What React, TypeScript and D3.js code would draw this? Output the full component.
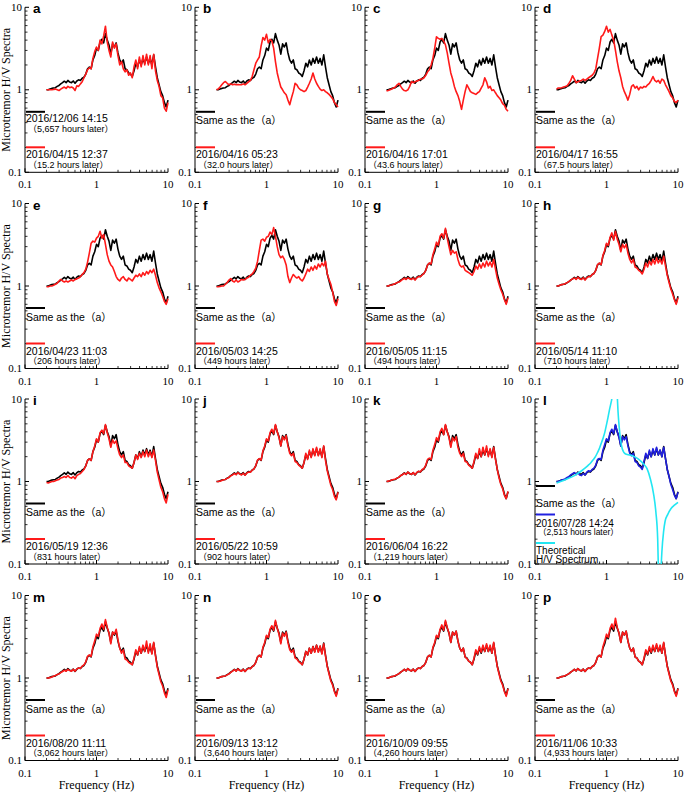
import React from 'react';
import * as d3 from 'd3';

// Frequency grid (Hz), log-spaced sampling used for all measured spectra
const freqGrid = [0.200,0.211,0.224,0.237,0.251,0.266,0.282,0.299,0.316,0.335,0.355,0.376,0.398,0.422,0.447,0.473,0.501,0.531,0.562,0.596,0.631,0.668,0.708,0.750,0.794,0.841,0.891,0.944,1.000,1.059,1.122,1.189,1.259,1.334,1.413,1.496,1.585,1.679,1.778,1.884,1.995,2.113,2.239,2.371,2.512,2.661,2.818,2.985,3.162,3.350,3.548,3.758,3.981,4.217,4.467,4.732,5.012,5.309,5.623,5.957,6.310,6.683,7.079,7.499,7.943,8.414,8.913,9.441,10.00];

// Reference spectrum 2016/12/06 (black, same in all panels)
const blackRef = [1.00,1.00,1.02,1.04,1.05,1.06,1.10,1.13,1.18,1.22,1.27,1.22,1.30,1.24,1.22,1.28,1.20,1.28,1.32,1.30,1.38,1.42,1.55,1.80,1.88,1.80,2.30,2.60,3.20,3.00,3.80,4.10,3.70,4.80,4.00,3.50,2.70,3.60,3.30,3.70,2.80,2.30,2.10,2.30,1.80,1.75,1.60,1.55,1.45,1.70,2.10,1.90,2.30,2.00,2.40,2.10,2.50,2.10,2.40,2.00,2.65,1.90,1.40,1.15,0.95,0.85,0.70,0.62,0.75];

const redA = [1.00,1.00,1.00,1.00,1.01,1.02,1.00,0.98,1.02,1.05,1.08,1.04,1.10,1.06,1.08,1.05,0.98,1.12,1.10,1.18,1.25,1.40,1.55,1.75,1.85,1.80,2.40,2.90,3.30,3.00,4.00,3.60,4.50,5.90,3.80,3.00,2.50,3.80,3.20,3.60,2.60,2.00,2.20,1.80,1.65,1.75,1.50,1.60,1.40,1.90,2.30,1.80,2.50,1.90,2.60,2.00,2.70,2.00,2.60,1.80,2.70,1.70,1.30,1.10,0.85,0.80,0.60,0.55,0.70];
const redB = [1.00,1.02,1.08,1.15,1.22,1.26,1.20,1.15,1.18,1.15,1.17,1.15,1.16,1.15,1.15,1.18,1.15,1.20,1.25,1.30,1.45,1.75,2.10,2.30,2.50,3.40,4.30,4.00,4.70,3.70,4.10,3.90,3.20,2.20,1.60,1.30,1.08,1.00,0.92,0.87,0.75,0.66,0.80,0.95,1.20,1.15,1.05,1.00,0.98,0.95,0.98,1.08,1.20,1.35,1.60,1.35,1.20,1.10,1.02,0.98,1.00,0.95,0.92,0.88,0.83,0.78,0.70,0.66,0.62];
const redC = [0.97,0.98,1.00,1.02,1.05,1.08,1.15,1.20,1.10,1.02,0.98,0.97,1.00,1.10,1.26,1.22,1.25,1.28,1.30,1.35,1.35,1.40,1.50,1.65,1.75,2.00,2.40,3.20,4.40,4.20,4.10,4.20,3.90,3.50,2.80,2.10,1.60,1.35,1.10,0.95,0.85,0.72,0.58,0.75,0.95,1.15,1.05,0.95,0.92,0.90,0.88,0.92,0.95,1.05,1.15,1.40,1.25,1.05,1.10,0.98,1.00,0.92,0.85,0.80,0.75,0.68,0.65,0.58,0.55];
const redD = [1.02,1.05,1.05,1.06,1.08,1.10,1.12,1.20,1.30,1.48,1.35,1.22,1.25,1.28,1.30,1.35,1.30,1.35,1.40,1.45,1.50,1.60,1.80,2.40,3.20,4.40,4.60,5.10,5.90,5.00,5.40,4.60,4.00,3.00,2.20,1.70,1.40,1.10,0.95,0.85,0.75,0.88,1.10,1.15,1.05,1.10,1.00,1.08,1.05,1.10,1.08,1.15,1.20,1.30,1.45,1.30,1.25,1.30,1.20,1.35,1.30,1.15,1.05,0.95,0.85,0.80,0.72,0.70,0.75];
const redE = [0.98,0.98,1.00,1.00,1.02,1.05,1.08,1.15,1.20,1.15,1.12,1.15,1.12,1.15,1.18,1.15,1.20,1.22,1.25,1.30,1.38,1.45,1.60,1.95,2.50,3.30,3.50,3.40,3.80,4.00,4.60,3.80,4.20,3.20,2.40,2.00,1.80,1.70,1.50,1.30,1.20,1.15,1.25,1.30,1.20,1.15,1.25,1.20,1.15,1.25,1.35,1.30,1.40,1.30,1.45,1.35,1.50,1.40,1.55,1.45,1.60,1.35,1.10,0.95,0.85,0.75,0.65,0.60,0.70];
const redF = [0.98,0.98,0.99,1.00,1.00,1.05,1.10,1.18,1.23,1.15,1.12,1.18,1.12,1.15,1.20,1.18,1.20,1.25,1.28,1.35,1.40,1.50,1.65,2.00,2.70,3.60,3.70,3.50,3.90,4.00,4.50,4.20,5.10,4.00,3.00,2.40,2.20,2.30,2.10,1.80,1.30,1.10,1.25,1.38,1.30,1.25,1.30,1.20,1.15,1.25,1.40,1.60,1.50,1.70,1.55,1.75,1.60,1.85,1.70,1.90,1.75,2.00,1.40,1.20,1.05,0.85,0.65,0.58,0.70];
const redG = [1.00,1.00,1.02,1.03,1.05,1.07,1.10,1.12,1.15,1.20,1.24,1.20,1.26,1.22,1.20,1.25,1.18,1.26,1.30,1.30,1.36,1.42,1.55,1.80,1.90,1.85,2.40,2.80,3.40,3.10,4.00,4.30,3.80,5.00,3.80,3.00,2.40,2.70,2.50,2.60,2.10,1.80,1.70,1.75,1.55,1.50,1.45,1.40,1.35,1.50,1.75,1.60,1.85,1.65,1.90,1.70,2.00,1.75,1.95,1.70,2.10,1.60,1.25,1.05,0.90,0.80,0.68,0.60,0.72];
const redH = [1.00,1.00,1.02,1.04,1.05,1.07,1.10,1.14,1.18,1.22,1.25,1.20,1.28,1.22,1.20,1.26,1.18,1.26,1.30,1.30,1.38,1.42,1.55,1.82,1.90,1.82,2.35,2.70,3.30,3.10,3.90,4.40,3.60,4.60,3.70,3.20,2.60,3.20,2.90,3.20,2.50,2.10,1.90,2.10,1.70,1.65,1.55,1.50,1.40,1.60,1.90,1.70,2.00,1.80,2.10,1.85,2.20,1.90,2.10,1.85,2.30,1.75,1.35,1.10,0.92,0.80,0.68,0.60,0.72];
const redI = [0.97,0.96,0.98,1.00,1.00,1.02,1.04,1.06,1.10,1.12,1.15,1.12,1.18,1.12,1.10,1.15,1.08,1.18,1.22,1.25,1.32,1.40,1.55,1.80,1.88,1.80,2.30,2.70,3.30,3.00,3.90,4.20,3.80,4.90,3.90,3.30,2.60,3.20,2.90,3.10,2.50,2.10,1.95,2.10,1.70,1.70,1.55,1.50,1.45,1.70,2.10,1.85,2.20,1.95,2.30,2.00,2.40,2.00,2.30,1.95,2.40,1.80,1.30,1.05,0.85,0.75,0.62,0.55,0.70];
const redJ = [1.00,1.00,1.01,1.03,1.05,1.06,1.09,1.12,1.17,1.20,1.25,1.21,1.28,1.23,1.20,1.26,1.19,1.27,1.30,1.30,1.37,1.42,1.56,1.82,1.90,1.82,2.35,2.70,3.30,3.10,3.90,4.30,3.80,4.90,4.00,3.40,2.70,3.50,3.20,3.60,2.70,2.20,2.05,2.20,1.75,1.70,1.58,1.52,1.45,1.70,2.20,1.85,2.40,1.95,2.50,2.05,2.60,2.05,2.50,1.95,2.70,1.80,1.35,1.10,0.90,0.80,0.66,0.60,0.74];
const redK = [1.00,1.01,1.02,1.04,1.06,1.07,1.10,1.13,1.18,1.21,1.26,1.22,1.30,1.25,1.22,1.28,1.21,1.29,1.33,1.31,1.40,1.44,1.58,1.85,1.92,1.85,2.40,2.80,3.40,3.10,4.00,4.40,3.70,4.90,4.00,3.40,2.60,3.40,3.10,3.50,2.60,2.20,2.00,2.20,1.75,1.72,1.58,1.52,1.45,1.75,2.20,1.90,2.50,2.00,2.60,2.10,2.70,2.00,2.50,1.95,2.60,1.85,1.40,1.10,0.92,0.82,0.68,0.62,0.76];
const blueL = [1.00,1.00,1.02,1.04,1.06,1.08,1.12,1.15,1.20,1.24,1.28,1.22,1.28,1.20,1.18,1.25,1.20,1.30,1.35,1.32,1.40,1.45,1.58,1.85,1.90,1.85,2.40,2.80,3.30,3.10,3.90,4.30,3.80,4.90,4.00,3.40,2.70,3.50,3.20,3.50,2.70,2.20,2.05,2.20,1.75,1.70,1.55,1.50,1.40,1.75,2.20,1.90,2.40,2.00,2.50,2.10,2.60,2.10,2.40,2.00,2.60,1.90,1.40,1.15,0.92,0.80,0.68,0.62,0.74];
const redM = [1.00,1.00,1.01,1.03,1.05,1.07,1.10,1.12,1.16,1.20,1.24,1.21,1.27,1.23,1.21,1.27,1.21,1.29,1.32,1.31,1.39,1.44,1.57,1.83,1.90,1.83,2.40,2.80,3.40,3.20,4.00,4.50,3.90,5.10,4.10,3.50,2.60,3.60,3.40,3.90,2.90,2.30,2.00,2.20,1.70,1.65,1.55,1.50,1.45,1.75,2.20,1.90,2.40,2.00,2.50,2.10,2.80,2.00,2.60,1.95,2.70,1.85,1.35,1.10,0.90,0.80,0.66,0.58,0.72];
const redN = [1.00,1.00,1.02,1.04,1.05,1.06,1.09,1.12,1.17,1.21,1.26,1.21,1.29,1.23,1.21,1.27,1.20,1.27,1.31,1.30,1.37,1.42,1.55,1.80,1.88,1.80,2.35,2.70,3.30,3.10,3.90,4.30,3.80,5.00,4.00,3.40,2.60,3.50,3.20,3.60,2.70,2.20,2.05,2.20,1.75,1.70,1.58,1.52,1.45,1.70,2.10,1.90,2.30,2.00,2.40,2.05,2.50,2.05,2.45,1.95,2.60,1.85,1.38,1.12,0.92,0.82,0.68,0.60,0.74];
const redO = [1.00,1.00,1.02,1.04,1.05,1.07,1.10,1.13,1.18,1.22,1.27,1.22,1.30,1.24,1.22,1.28,1.20,1.28,1.32,1.30,1.38,1.42,1.55,1.80,1.88,1.80,2.35,2.70,3.30,3.10,3.90,4.40,3.80,5.00,4.10,3.50,2.70,3.60,3.30,3.70,2.80,2.30,2.10,2.30,1.80,1.72,1.60,1.55,1.45,1.75,2.20,1.95,2.40,2.05,2.50,2.10,2.60,2.10,2.50,2.00,2.70,1.85,1.38,1.12,0.92,0.82,0.68,0.60,0.74];
const redP = [1.00,1.00,1.02,1.04,1.05,1.07,1.10,1.13,1.18,1.22,1.27,1.22,1.30,1.24,1.22,1.28,1.20,1.28,1.32,1.30,1.38,1.42,1.55,1.80,1.88,1.80,2.40,2.80,3.40,3.10,4.00,4.50,3.90,5.30,4.10,3.50,2.70,3.60,3.30,3.70,2.80,2.30,2.10,2.30,1.80,1.75,1.60,1.55,1.45,1.75,2.20,1.95,2.40,2.05,2.50,2.10,2.60,2.10,2.50,2.00,2.70,1.85,1.38,1.12,0.92,0.82,0.68,0.60,0.74];

// Theoretical H/V spectrum (cyan, panel l)
const theoFreq = [0.20,0.25,0.30,0.35,0.40,0.45,0.50,0.55,0.60,0.65,0.70,0.75,0.80,0.85,0.90,0.95,1.00,1.05,1.10,1.15,1.20,1.25,1.30,1.35,1.40,1.45,1.50,1.58,1.66,1.85,2.30,2.80,3.30,3.70,4.10,4.55,4.90,5.20,5.40,5.50,5.70,5.95,6.30,6.60,7.20,8.00,9.00,10.0];
const theoVal = [0.96,1.03,1.10,1.17,1.26,1.35,1.45,1.56,1.68,1.83,2.00,2.25,2.55,2.95,3.40,4.00,4.90,6.00,7.40,8.80,11.0,30.0,200,30.0,13.0,7.0,4.7,3.1,2.5,2.15,2.05,1.87,1.63,1.42,1.08,0.71,0.43,0.20,0.05,0.02,0.06,0.14,0.25,0.33,0.40,0.47,0.52,0.56];

const panelLetters = ['a','b','c','d','e','f','g','h','i','j','k','l','m','n','o','p'];
const panelSeries = [redA,redB,redC,redD,redE,redF,redG,redH,redI,redJ,redK,blueL,redM,redN,redO,redP];
const panelDates = ['2016/04/15 12:37','2016/04/16 05:23','2016/04/16 17:01','2016/04/17 16:55','2016/04/23 11:03','2016/05/03 14:25','2016/05/05 11:15','2016/05/14 11:10','2016/05/19 12:36','2016/05/22 10:59','2016/06/04 16:22','2016/07/28 14:24','2016/08/20 11:11','2016/09/13 13:12','2016/10/09 09:55','2016/11/06 10:33'];
const panelHours = ['15.2','32.0','43.6','67.5','206','449','494','710','831','902','1,219','2,513','3,062','3,640','4,260','4,933'];
const refDate = '2016/12/06 14:15';
const refHours = '5,657';
const sameText = 'Same as the（a）';
const theoText = ['Theoretical', 'H/V Spectrum'];

const tickValues = [0.1, 1, 10];
const tickLabels = ['0.1', '1', '10'];
const minorTicks = [0.2,0.3,0.4,0.5,0.6,0.7,0.8,0.9,2,3,4,5,6,7,8,9];

const yTitle = 'Microtremor H/V Spectra';
const xTitle = 'Frequency (Hz)';

const W = 143;
const H = 165;
const colLeft = [25, 195, 365, 535];
const rowTop = [7.3, 203.5, 399, 595.5];

const SANS = "'Liberation Sans', Arial, Helvetica, 'Noto Sans CJK JP', sans-serif";
const SERIF = "'Liberation Serif', 'Times New Roman', 'Noto Sans CJK JP', serif";
const RED = '#ff1a1a';
const BLUE = '#2020e0';
const CYAN = '#22e6f2';

const x = d3.scaleLog().domain([0.1, 10]).range([0, W]);
const y = d3.scaleLog().domain([0.1, 10]).range([H, 0]);

function pts(fs: number[], vs: number[]): [number, number][] {
  const n = Math.min(fs.length, vs.length);
  const out: [number, number][] = [];
  for (let i = 0; i < n; i++) out.push([fs[i], vs[i]]);
  return out;
}

const lineGen = d3.line<[number, number]>()
  .x(d => x(d[0]))
  .y(d => y(d[1]));
const smoothLine = d3.line<[number, number]>()
  .x(d => x(d[0]))
  .y(d => y(Math.max(d[1], 0.001)))
  .curve(d3.curveMonotoneX);

function Panel({ idx }: { idx: number }) {
  const col = idx % 4;
  const row = Math.floor(idx / 4);
  const left = colLeft[col];
  const top = rowTop[row];
  const isL = idx === 11;
  const isA = idx === 0;
  const color = isL ? BLUE : RED;
  const clipId = `clip-${idx}`;
  return (
    <g transform={`translate(${left},${top})`}>
      <defs>
        <clipPath id={clipId}>
          <rect x={0} y={0} width={W + 1} height={H} />
        </clipPath>
      </defs>
      <line x1={0} y1={0} x2={0} y2={H} stroke="#000" strokeWidth={1} />
      <line x1={0} y1={H} x2={W} y2={H} stroke="#000" strokeWidth={1} />
      {tickValues.map((t, i) => (
        <g key={'t' + i}>
          <line x1={0} x2={4} y1={y(t)} y2={y(t)} stroke="#000" strokeWidth={1} />
          <line x1={x(t)} x2={x(t)} y1={H} y2={H - 4} stroke="#000" strokeWidth={1} />
          <text x={-3} y={y(t) + 3.5} textAnchor="end" fontFamily={SERIF} fontSize={11}>{tickLabels[i]}</text>
          <text x={x(t)} y={H + 16} textAnchor="middle" fontFamily={SERIF} fontSize={11}>{tickLabels[i]}</text>
        </g>
      ))}
      {minorTicks.map((t, i) => (
        <g key={'m' + i}>
          <line x1={0} x2={2.5} y1={y(t)} y2={y(t)} stroke="#000" strokeWidth={0.8} />
          <line x1={x(t)} x2={x(t)} y1={H} y2={H - 2.5} stroke="#000" strokeWidth={0.8} />
        </g>
      ))}
      <g clipPath={`url(#${clipId})`}>
        <path d={lineGen(pts(freqGrid, blackRef)) || ''} fill="none" stroke="#000" strokeWidth={1.6} strokeLinejoin="round" />
        <path d={lineGen(pts(freqGrid, panelSeries[idx])) || ''} fill="none" stroke={color} strokeWidth={1.6} strokeLinejoin="round" />
        {isL && (
          <path d={smoothLine(pts(theoFreq, theoVal)) || ''} fill="none" stroke={CYAN} strokeWidth={1.6} />
        )}
      </g>
      <text x={8} y={6} fontFamily={SANS} fontWeight="bold" fontSize={13.5}>{panelLetters[idx]}</text>
      {isL ? (
        <g fontFamily={SANS}>
          <line x1={1} x2={20} y1={87} y2={87} stroke="#000" strokeWidth={2} />
          <text x={1} y={107.5} fontSize={10.5}>{sameText}</text>
          <line x1={1} x2={20} y1={115.5} y2={115.5} stroke={BLUE} strokeWidth={2} />
          <text x={1} y={127.5} fontSize={10}>{panelDates[idx]}</text>
          <text x={3} y={136} fontSize={8.5}>{`（${panelHours[idx]} hours later）`}</text>
          <line x1={1} x2={20} y1={144} y2={144} stroke={CYAN} strokeWidth={2} />
          <text x={1} y={155} fontSize={10}>{theoText[0]}</text>
          <text x={1} y={164} fontSize={10}>{theoText[1]}</text>
        </g>
      ) : (
        <g fontFamily={SANS}>
          <line x1={1} x2={20} y1={104.5} y2={104.5} stroke="#000" strokeWidth={2} />
          {isA ? (
            <>
              <text x={1} y={115} fontSize={10.5}>{refDate}</text>
              <text x={3} y={124.5} fontSize={9}>{`（${refHours} hours later）`}</text>
            </>
          ) : (
            <text x={1} y={117} fontSize={10.5}>{sameText}</text>
          )}
          <line x1={1} x2={20} y1={140} y2={140} stroke={RED} strokeWidth={2} />
          <text x={1} y={151} fontSize={10.5}>{panelDates[idx]}</text>
          <text x={3} y={160.5} fontSize={9}>{`（${panelHours[idx]} hours later）`}</text>
        </g>
      )}
      {col === 0 && (
        <text transform={`translate(${-left + 10},${H / 2}) rotate(-90)`} textAnchor="middle" fontFamily={SERIF} fontSize={12}>{yTitle}</text>
      )}
      {row === 3 && (
        <text x={W / 2} y={193} textAnchor="middle" fontFamily={SERIF} fontSize={12}>{xTitle}</text>
      )}
    </g>
  );
}

export default function App() {
  return (
    <svg width={685} height={792} viewBox="0 0 685 792" style={{ position: 'absolute', left: 0, top: 0, background: '#fff' }}>
      <rect x={0} y={0} width={685} height={792} fill="#fff" />
      {panelLetters.map((_, i) => <Panel key={i} idx={i} />)}
    </svg>
  );
}
